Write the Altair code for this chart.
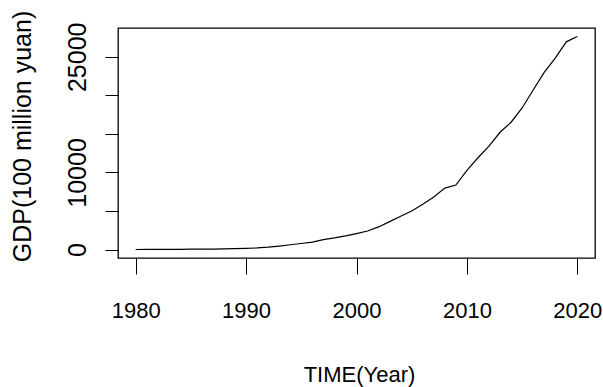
import altair as alt
import pandas as pd

years = list(range(1980, 2021))
gdp = [3, 5, 8, 13, 23, 39, 42, 56, 87, 116,
       150, 200, 300, 450, 620, 780, 950, 1290, 1510, 1770,
       2070, 2400, 2930, 3620, 4310, 5000, 5860, 6810, 7970, 8360,
       10260, 11900, 13400, 15210, 16510, 18360, 20690, 22970, 24830, 26940,
       27630]
x_ticks = [1980, 1990, 2000, 2010, 2020]
y_ticks = [0, 5000, 10000, 15000, 20000, 25000]
y_shown = [0, 10000, 25000]
x_title = "TIME(Year)"
y_title = "GDP(100 million yuan)"

df = pd.DataFrame({"year": years, "gdp": gdp})

xr = max(years) - min(years)
yr = max(gdp) - min(gdp)
x_dom = [min(years) - 0.04 * xr, max(years) + 0.04 * xr]
y_dom = [min(gdp) - 0.04 * yr, max(gdp) + 0.04 * yr]

regular = "Liberation Sans, Arial, sans-serif"

label_expr = "indexof([" + ",".join(str(v) for v in y_shown) + "], datum.value) >= 0 ? datum.label : ''"

chart = alt.Chart(df).mark_line(color="black", strokeWidth=1.2).encode(
    x=alt.X("year:Q",
            scale=alt.Scale(domain=x_dom, nice=False, zero=False),
            axis=alt.Axis(values=x_ticks, title=x_title, format="d", grid=False, domain=False,
                          tickColor="black", tickSize=16, tickWidth=1,
                          labelFont=regular, labelFontSize=22, labelColor="black",
                          labelBaseline="alphabetic", labelAlign="center", labelPadding=43,
                          labelFlush=False, labelOverlap=False,
                          titleFont=regular, titleFontSize=22, titleFontWeight="normal",
                          titleColor="black", titleBaseline="alphabetic", titleAlign="center",
                          titleX=241, titleY=123)),
    y=alt.Y("gdp:Q",
            scale=alt.Scale(domain=y_dom, nice=False, zero=False),
            axis=alt.Axis(values=y_ticks, title=y_title, grid=False, domain=False, format="d",
                          tickColor="black", tickSize=13, tickWidth=1,
                          labelFont=regular, labelFontSize=25, labelColor="black",
                          labelAngle=270, labelBaseline="alphabetic", labelAlign="center",
                          labelPadding=20, labelFlush=False, labelOverlap=False,
                          labelExpr=label_expr,
                          titleFont=regular, titleFontSize=25, titleFontWeight="normal",
                          titleColor="black", titleAngle=270, titleBaseline="alphabetic",
                          titleAlign="center", titleX=-88, titleY=108)),
).properties(
    width=477, height=230,
    autosize="none",
    padding={"left": 118, "top": 28, "right": 8, "bottom": 129},
    background="white",
).configure_view(stroke="black", strokeWidth=1.3)

chart.save("out.html", embed_options={"renderer": "svg", "actions": False})
